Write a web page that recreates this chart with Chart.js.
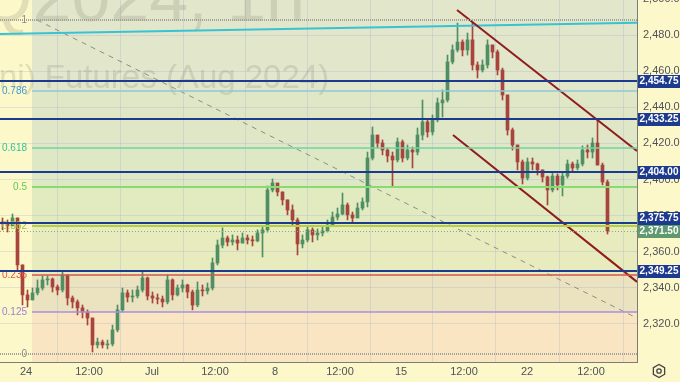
<!DOCTYPE html>
<html>
<head>
<meta charset="utf-8">
<script src="https://cdn.jsdelivr.net/npm/chart.js@4.4.1/dist/chart.umd.min.js"></script>
<style>
  html, body { margin: 0; padding: 0; background: #fdf8ca; }
  #chartReport { width: 680px; height: 382px; }
</style>
</head>
<body>
<div id="chartReport"><canvas id="myChart" width="680" height="382"></canvas></div>
<script>
// candles, one every 5px
const opens = [2376.5, 2375.4, 2374.3, 2378.7, 2352.7, 2336.1, 2333.3, 2337.2, 2339.9, 2344.4,
  2344.9, 2340.5, 2338.8, 2347.1, 2334.4, 2332.2, 2328.9, 2326.6, 2323.3, 2308.4,
  2310.0, 2308.4, 2308.9, 2316.7, 2327.8, 2337.2, 2334.9, 2335.5, 2338.8, 2345.5,
  2335.5, 2334.4, 2333.8, 2332.2, 2344.4, 2336.1, 2339.9, 2341.6, 2337.7, 2330.5,
  2338.8, 2338.3, 2339.9, 2353.8, 2363.7, 2367.6, 2365.4, 2366.5, 2364.8, 2367.6,
  2366.5, 2366.0, 2370.4, 2372.1, 2394.2, 2398.1, 2393.1, 2388.7, 2383.1, 2377.6,
  2364.3, 2366.5, 2372.1, 2369.3, 2370.4, 2371.5, 2374.8, 2379.2, 2380.9, 2385.9,
  2380.4, 2378.7, 2384.2, 2387.6, 2411.9, 2424.6, 2420.2, 2416.3, 2413.0, 2410.8,
  2420.8, 2411.9, 2416.3, 2415.2, 2424.6, 2431.9, 2426.3, 2433.0, 2442.4, 2444.0,
  2465.1, 2471.7, 2476.1, 2471.7, 2477.3, 2463.4, 2460.6, 2463.4, 2474.5, 2470.6,
  2460.6, 2446.8, 2427.4, 2419.1, 2409.7, 2400.8, 2409.7, 2408.6, 2405.3, 2401.4,
  2394.2, 2401.9, 2397.0, 2401.9, 2408.6, 2406.4, 2408.6, 2416.3, 2415.2, 2420.2,
  2408.0, 2398.6];
const highs = [2378.7, 2377.6, 2380.9, 2378.7, 2352.7, 2338.8, 2339.9, 2344.4, 2346.6, 2346.6,
  2345.5, 2341.6, 2348.8, 2347.1, 2335.5, 2333.3, 2330.5, 2327.8, 2323.3, 2312.2,
  2311.1, 2311.1, 2319.4, 2330.5, 2339.9, 2338.8, 2338.8, 2341.0, 2348.8, 2346.0,
  2337.7, 2336.6, 2335.5, 2347.1, 2345.0, 2341.6, 2344.4, 2342.0, 2338.8, 2343.3,
  2341.6, 2342.7, 2356.5, 2366.5, 2373.2, 2368.7, 2369.3, 2368.7, 2370.4, 2369.3,
  2368.7, 2372.1, 2374.3, 2396.4, 2400.3, 2397.5, 2393.1, 2388.7, 2385.9, 2378.7,
  2369.3, 2374.3, 2373.2, 2372.6, 2374.3, 2377.6, 2382.0, 2384.2, 2392.5, 2387.0,
  2382.0, 2387.0, 2389.8, 2415.2, 2429.1, 2424.6, 2421.9, 2417.5, 2415.2, 2423.0,
  2421.9, 2419.1, 2418.0, 2428.5, 2444.0, 2433.0, 2435.7, 2445.1, 2449.6, 2468.9,
  2474.5, 2486.6, 2477.3, 2481.1, 2487.2, 2465.1, 2466.2, 2477.3, 2474.5, 2471.7,
  2461.7, 2446.8, 2428.5, 2419.1, 2410.8, 2411.9, 2411.9, 2409.1, 2405.3, 2401.9,
  2404.2, 2403.1, 2404.2, 2410.8, 2409.7, 2410.8, 2418.6, 2419.1, 2423.0, 2433.0,
  2409.1, 2399.7];
const lows = [2372.1, 2370.9, 2374.3, 2349.9, 2330.5, 2329.4, 2333.3, 2336.1, 2338.8, 2341.6,
  2337.7, 2336.1, 2337.7, 2330.5, 2328.9, 2325.0, 2323.3, 2319.4, 2304.5, 2306.7,
  2306.7, 2306.2, 2307.8, 2315.6, 2326.6, 2332.2, 2332.2, 2334.4, 2337.7, 2333.3,
  2331.6, 2331.1, 2329.4, 2331.1, 2333.3, 2335.5, 2337.7, 2334.4, 2327.8, 2329.5,
  2335.5, 2336.6, 2338.8, 2352.7, 2362.1, 2363.2, 2363.7, 2361.0, 2364.8, 2364.3,
  2363.2, 2365.5, 2357.1, 2370.9, 2393.1, 2390.9, 2385.9, 2380.4, 2374.8, 2358.2,
  2362.1, 2365.4, 2365.4, 2366.5, 2368.7, 2370.9, 2374.3, 2377.6, 2380.4, 2377.6,
  2376.5, 2378.7, 2383.1, 2384.8, 2410.8, 2417.5, 2413.6, 2409.7, 2395.9, 2409.7,
  2409.7, 2410.8, 2406.4, 2413.6, 2421.9, 2423.5, 2424.6, 2431.9, 2434.6, 2442.9,
  2464.0, 2470.6, 2468.4, 2468.9, 2460.6, 2456.2, 2459.5, 2461.7, 2467.3, 2457.9,
  2444.0, 2424.6, 2416.3, 2405.3, 2397.5, 2399.7, 2405.3, 2402.5, 2398.6, 2385.9,
  2393.1, 2394.2, 2390.9, 2400.8, 2404.2, 2405.3, 2407.5, 2411.9, 2411.9, 2408.0,
  2397.0, 2369.8];
const closes = [2375.4, 2374.3, 2378.7, 2352.7, 2336.1, 2333.3, 2337.2, 2339.9, 2344.4, 2344.9,
  2340.5, 2338.8, 2347.1, 2334.4, 2332.2, 2328.9, 2326.6, 2323.3, 2308.4, 2310.0,
  2308.4, 2308.9, 2316.7, 2327.8, 2337.2, 2334.9, 2335.5, 2338.8, 2345.5, 2335.5,
  2334.4, 2333.8, 2332.2, 2344.4, 2336.1, 2339.9, 2341.6, 2337.7, 2330.5, 2338.8,
  2338.3, 2339.9, 2353.8, 2363.7, 2367.6, 2365.4, 2366.5, 2364.8, 2367.6, 2366.5,
  2366.0, 2370.4, 2372.1, 2394.2, 2398.1, 2393.1, 2388.7, 2383.1, 2377.6, 2364.3,
  2366.5, 2372.1, 2369.3, 2370.4, 2371.5, 2374.8, 2379.2, 2380.9, 2385.9, 2380.4,
  2378.7, 2384.2, 2387.6, 2411.9, 2424.6, 2420.2, 2416.3, 2413.0, 2410.8, 2420.8,
  2411.9, 2416.3, 2415.2, 2424.6, 2431.9, 2426.3, 2433.0, 2442.4, 2444.0, 2465.1,
  2471.7, 2476.1, 2471.7, 2477.3, 2463.4, 2460.6, 2463.4, 2474.5, 2470.6, 2460.6,
  2446.8, 2427.4, 2419.1, 2409.7, 2400.8, 2409.7, 2408.6, 2405.3, 2401.4, 2394.2,
  2401.9, 2397.0, 2401.9, 2408.6, 2406.4, 2408.6, 2416.3, 2415.2, 2420.2, 2408.0,
  2398.6, 2371.5];

// time axis (positions in candle index units)
const timeTickPos = [4.7, 17.3, 29.9, 42.5, 54.5, 67.5, 79.7, 92.3, 104.9, 117.7];
const timeTickLabels = ["24", "12:00", "Jul", "12:00", "8", "12:00", "15", "12:00", "22", "12:00"];
const priceTicks = [2320, 2340, 2360, 2380, 2400, 2420, 2440, 2460, 2480, 2500];

// horizontal levels marked on the price axis
const levels = [2454.75, 2433.25, 2404.00, 2375.75, 2349.25];
const lastPrice = 2371.50;

// fibonacci retracement
const fibLow = 2303.5;
const fibHigh = 2488.3;
const fibStartIdx = 5.9;
const fibRatios = [1, 0.786, 0.618, 0.5, 0.382, 0.236, 0.125, 0];
const fibLabels = ["1", "0.786", "0.618", "0.5", "0.382", "0.236", "0.125", "0"];
const fibLineColors = ["#a3a39a", "#8cc7d6", "#6fd3a6", "#86dc72", "#b4d23e", "#d0574b", "#a98fe0", "#a3a39a"];
const fibTextColors = ["#8a8a86", "#3f9ad6", "#34c29c", "#5fcb4c", "#a6c836", "#e2574a", "#9a80d8", "#8a8a86"];
const fibBands = ["#e2e6cb", "#e0e7c7", "#dfe8c4", "#e2eabf", "#e8ebbd", "#ebe2bf", "#fae5c2"];

// trend lines: [idx, price] endpoints
const cyanLine = [{ x: -0.5, y: 2480.6 }, { x: 126.9, y: 2486.8 }];
const greyDash = [{ x: 6.9, y: 2488.3 }, { x: 126.5, y: 2323.8 }];
const redUpper = [{ x: 90.9, y: 2493.8 }, { x: 126.9, y: 2415.8 }];
const redLower = [{ x: 90.1, y: 2424.6 }, { x: 126.9, y: 2343.3 }];

const UP = "#4f8f63";
const DOWN = "#a8443c";
const FONT = "'Liberation Sans', 'DejaVu Sans', sans-serif";

const candleColors = closes.map((c, i) => (c >= opens[i] ? UP : DOWN));
const wickData = highs.map((h, i) => ({ x: i, y: [lows[i], h] }));
const bodyData = closes.map((c, i) => ({ x: i, y: [opens[i], c] }));

const fmt = (v) => v.toLocaleString("en-US", { minimumFractionDigits: 2, maximumFractionDigits: 2 });

const backdrop = {
  id: "backdrop",
  beforeDraw(chart) {
    const { ctx, chartArea: a, scales: { x, y } } = chart;
    ctx.save();
    ctx.fillStyle = "#fdf8ca";
    ctx.fillRect(0, 0, chart.width, chart.height);
    const fx = x.getPixelForValue(fibStartIdx);
    const py = fibRatios.map((r) => y.getPixelForValue(fibLow + r * (fibHigh - fibLow)));
    ctx.fillStyle = fibBands[0];
    ctx.fillRect(fx, a.top, a.right - fx, py[0] - a.top);
    for (let k = 0; k < fibBands.length; k++) {
      ctx.fillStyle = fibBands[k];
      ctx.fillRect(fx, py[k], a.right - fx, py[k + 1] - py[k]);
    }
    ctx.fillStyle = fibBands[fibBands.length - 1];
    ctx.fillRect(fx, py[py.length - 1], a.right - fx, a.bottom - py[py.length - 1]);
    ctx.restore();
  },
  beforeDatasetsDraw(chart) {
    const { ctx, chartArea: a } = chart;
    ctx.save();
    ctx.beginPath();
    ctx.rect(a.left, a.top, a.right - a.left, a.bottom - a.top);
    ctx.clip();
    ctx.fillStyle = "rgba(120,120,100,0.2)";
    ctx.textBaseline = "alphabetic";
    ctx.font = "70px " + FONT;
    ctx.fillText("Q2024, 1h", -22, 21);
    ctx.font = "33px " + FONT;
    ctx.fillText("ni) Futures (Aug 2024)", -1, 88);
    ctx.restore();
  },
  afterDatasetsDraw(chart) {
    const { ctx, chartArea: a, scales: { x, y } } = chart;
    const fx = x.getPixelForValue(fibStartIdx);
    ctx.save();
    ctx.beginPath();
    ctx.rect(a.left, a.top, a.right - a.left, a.bottom - a.top);
    ctx.clip();
    // last price line
    const lp = Math.round(y.getPixelForValue(lastPrice)) + 0.5;
    ctx.strokeStyle = "#7fae85";
    ctx.lineWidth = 1;
    ctx.setLineDash([1, 2]);
    ctx.beginPath(); ctx.moveTo(a.left, lp); ctx.lineTo(a.right, lp); ctx.stroke();
    // fib lines and labels
    fibRatios.forEach((r, k) => {
      const py = Math.round(y.getPixelForValue(fibLow + r * (fibHigh - fibLow)));
      ctx.strokeStyle = fibLineColors[k];
      if (r === 0 || r === 1) {
        ctx.setLineDash([1, 1]);
        ctx.lineWidth = 2;
        ctx.beginPath(); ctx.moveTo(a.left, py); ctx.lineTo(a.right, py); ctx.stroke();
      } else {
        ctx.setLineDash([]);
        ctx.lineWidth = (r === 0.5 || r === 0.382) ? 2 : 1.5;
        ctx.beginPath(); ctx.moveTo(fx, py); ctx.lineTo(a.right, py); ctx.stroke();
      }
      ctx.fillStyle = fibTextColors[k];
      ctx.font = "10px " + FONT;
      ctx.textAlign = "right";
      ctx.textBaseline = "middle";
      ctx.fillText(fibLabels[k], fx - 5, py);
    });
    // navy levels
    ctx.setLineDash([]);
    ctx.strokeStyle = "#1c3a8e";
    ctx.lineWidth = 2;
    levels.forEach((v) => {
      const py = Math.round(y.getPixelForValue(v));
      ctx.beginPath(); ctx.moveTo(a.left, py); ctx.lineTo(a.right, py); ctx.stroke();
    });
    ctx.restore();
  },
  afterDraw(chart) {
    const { ctx, chartArea: a, scales: { y } } = chart;
    ctx.save();
    ctx.font = "bold 10px " + FONT;
    ctx.textAlign = "center";
    ctx.textBaseline = "middle";
    const mid = (a.right + chart.width) / 2 + 0.5;
    const lastY = Math.round(y.getPixelForValue(lastPrice));
    const box = (v, bg, cy) => {
      ctx.fillStyle = bg;
      ctx.fillRect(a.right + 1, cy - 6, chart.width - a.right - 1, 13);
      ctx.fillStyle = "#ffffff";
      ctx.fillText(fmt(v), mid, cy + 0.5);
    };
    levels.forEach((v) => {
      let cy = Math.round(y.getPixelForValue(v));
      // keep clear of the last price tag, as the platform does
      if (Math.abs(cy - lastY) < 13) cy = lastY - 13;
      box(v, "#1c3a8e", cy);
    });
    box(lastPrice, "#5f9a6e", lastY);
    // settings icon
    const cx = 659, cy = 371, r = 6.5;
    ctx.strokeStyle = "#444";
    ctx.lineWidth = 1.3;
    ctx.beginPath();
    for (let k = 0; k < 6; k++) {
      const t = Math.PI / 6 + k * Math.PI / 3;
      const px = cx + r * Math.cos(t), qy = cy + r * Math.sin(t);
      if (k === 0) ctx.moveTo(px, qy); else ctx.lineTo(px, qy);
    }
    ctx.closePath(); ctx.stroke();
    ctx.beginPath(); ctx.arc(cx, cy, 2.2, 0, Math.PI * 2); ctx.stroke();
    ctx.restore();
  }
};

const lineDs = (data, color, width, dash, order) => ({
  type: "line",
  data: data,
  borderColor: color,
  borderWidth: width,
  borderDash: dash,
  pointRadius: 0,
  fill: false,
  order: order
});

new Chart(document.getElementById("myChart"), {
  type: "bar",
  data: {
    datasets: [
      lineDs(redUpper, "#8e1c1c", 2, [], 0),
      lineDs(redLower, "#8e1c1c", 2, [], 0),
      lineDs(cyanLine, "#38c3d3", 2, [], 0),
      lineDs(greyDash, "#8d8d88", 1, [5, 5], 0),
      {
        data: bodyData,
        backgroundColor: candleColors,
        barThickness: 3,
        minBarLength: 1,
        grouped: false,
        order: 1
      },
      {
        data: wickData,
        backgroundColor: candleColors,
        barThickness: 1,
        grouped: false,
        order: 2
      }
    ]
  },
  options: {
    responsive: false,
    animation: false,
    devicePixelRatio: 1,
    layout: { padding: 0 },
    plugins: { legend: { display: false }, tooltip: { enabled: false } },
    scales: {
      x: {
        type: "linear",
        min: -0.5,
        max: 126.9,
        offset: false,
        afterFit: (s) => { s.height = 20; s.paddingLeft = 0; s.paddingRight = 0; },
        afterBuildTicks: (s) => { s.ticks = timeTickPos.map((v) => ({ value: v })); },
        grid: { color: "rgba(160,175,205,0.3)", drawTicks: false },
        border: { color: "#7d7d78" },
        ticks: {
          autoSkip: false,
          maxRotation: 0,
          padding: 3,
          color: "#4f5158",
          font: { size: 11, family: FONT },
          callback: (v, i) => timeTickLabels[i]
        }
      },
      y: {
        position: "right",
        min: 2298.94,
        max: 2499.38,
        afterFit: (s) => { s.width = 43; s.paddingTop = 0; s.paddingBottom = 0; },
        afterBuildTicks: (s) => { s.ticks = priceTicks.map((v) => ({ value: v })); },
        grid: { color: "rgba(160,175,205,0.3)", drawTicks: false },
        border: { color: "#7d7d78" },
        ticks: {
          padding: 6,
          color: "#4f5158",
          font: { size: 11, family: FONT },
          callback: (v) => fmt(v)
        }
      }
    }
  },
  plugins: [backdrop]
});
</script>
</body>
</html>
